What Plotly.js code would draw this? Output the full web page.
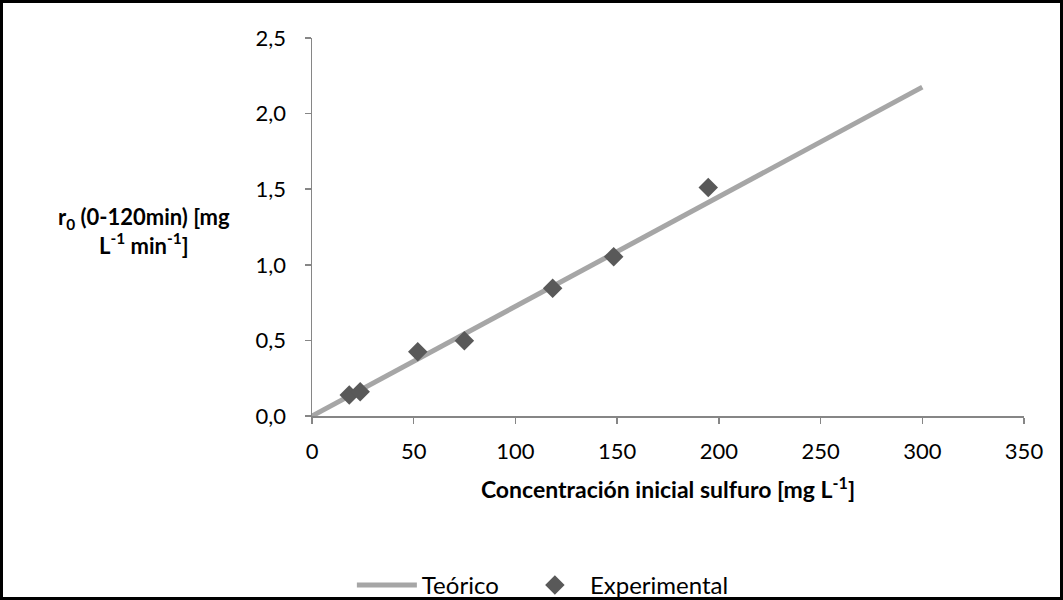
<!DOCTYPE html>
<html><head><meta charset="utf-8">
<script src="https://cdn.plot.ly/plotly-3.0.1.min.js"></script>
<style>
html,body{margin:0;padding:0;background:#fff;}
#wrap{width:1063px;height:600px;box-sizing:border-box;border:3px solid #000;overflow:hidden;}
#chart{width:1057px;height:605px;}
</style></head>
<body><div id="wrap"><div id="chart"></div></div>
<script>
const theoX = [0, 300];
const theoY = [0, 2.175];
const expX = [18.3, 23.7, 52, 74.9, 118.3, 148.3, 194.8];
const expY = [0.139, 0.161, 0.425, 0.498, 0.845, 1.054, 1.512];
const xTicks = [0, 50, 100, 150, 200, 250, 300, 350];
const yTicks = [0, 0.5, 1.0, 1.5, 2.0, 2.5];

const font = 'Lato, "Open Sans", sans-serif';
const traces = [
  {x: theoX, y: theoY, mode: 'lines', name: 'Teórico', legend: 'legend',
   line: {color: '#A6A6A6', width: 5}},
  {x: expX, y: expY, mode: 'markers', name: 'Experimental', legend: 'legend2',
   marker: {symbol: 'diamond', color: '#595959', size: 15}}
];
const legendBase = {orientation: 'h', xref: 'paper', xanchor: 'left',
  yref: 'container', y: 0.0, yanchor: 'bottom', font: {size: 24}, itemwidth: 60};
const layout = {
  width: 1057, height: 605,
  margin: {l: 309, r: 36, t: 35, b: 192},
  paper_bgcolor: '#fff', plot_bgcolor: '#fff',
  separators: ',.',
  font: {family: font, size: 22, color: '#000'},
  showlegend: true,
  legend: Object.assign({}, legendBase, {x: 0.056}),
  legend2: Object.assign({}, legendBase, {x: 0.292}),
  xaxis: {range: [0, 350], tickvals: xTicks, showgrid: false, zeroline: false,
          showline: true, linecolor: '#868686', linewidth: 1.5,
          ticks: 'outside', ticklen: 6, tickcolor: '#868686', tickwidth: 1.5,
          ticklabelstandoff: 9,
          tickfont: {size: 22},
          title: {text: '<b>Concentración inicial sulfuro [mg L<sup>-1</sup>]</b>',
                  font: {size: 23}, standoff: 19}},
  yaxis: {range: [0, 2.5], tickvals: yTicks, tickformat: '.1f', showgrid: false, zeroline: false,
          showline: true, linecolor: '#868686', linewidth: 1.5,
          ticks: 'outside', ticklen: 6, tickcolor: '#868686', tickwidth: 1.5,
          ticklabelstandoff: 14,
          tickfont: {size: 22}},
  annotations: [{
    xref: 'paper', yref: 'paper', x: -0.236, y: 0.49, xanchor: 'center', yanchor: 'middle',
    showarrow: false, align: 'center',
    text: '<b>r<sub>0</sub> (0-120min) [mg<br>L<sup>-1</sup> min<sup>-1</sup>]</b>',
    font: {size: 22}
  }]
};
Plotly.newPlot('chart', traces, layout, {displayModeBar: false, staticPlot: true});
</script></body></html>
